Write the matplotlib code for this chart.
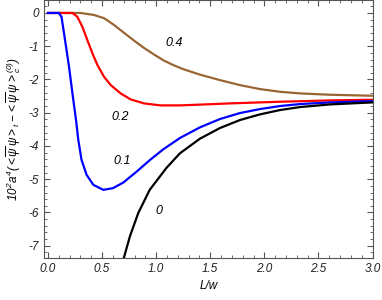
import numpy as np
import matplotlib
matplotlib.use("Agg")
import matplotlib.pyplot as plt
from matplotlib.ticker import MultipleLocator

plt.rcParams['font.family'] = 'Liberation Sans'
plt.rcParams['font.style'] = 'italic'
plt.rcParams['mathtext.fontset'] = 'custom'
plt.rcParams['mathtext.rm'] = 'Liberation Sans:italic'
plt.rcParams['mathtext.it'] = 'Liberation Sans:italic'

# curves, label = value of the parameter
x_00 = [0.68, 0.70, 0.757, 0.834, 0.94, 1.095, 1.22, 1.405, 1.59, 1.775, 1.96, 2.144, 2.33, 2.61, 3.0]
y_00 = [-7.6, -7.38, -6.72, -6.02, -5.32, -4.66, -4.22, -3.78, -3.46, -3.22, -3.05, -2.92, -2.83, -2.75, -2.69]

x_01 = [0.0, 0.10, 0.125, 0.148, 0.194, 0.234, 0.259, 0.28, 0.31, 0.357, 0.419, 0.511, 0.60,
        0.696, 0.82, 0.943, 1.066, 1.22, 1.405, 1.59, 1.775, 1.96, 2.144, 2.33, 2.61, 3.0]
y_01 = [0.0, 0.0, -0.12, -0.61, -1.61, -2.62, -3.22, -3.82, -4.42, -4.87, -5.17, -5.32, -5.27,
        -5.10, -4.77, -4.42, -4.10, -3.76, -3.44, -3.19, -3.01, -2.89, -2.80, -2.74, -2.69, -2.65]

x_02 = [0.0, 0.225, 0.27, 0.317, 0.363, 0.41, 0.456, 0.518, 0.58, 0.672, 0.764, 0.887, 1.04,
        1.22, 1.534, 1.68, 2.144, 2.61, 3.0]
y_02 = [0.0, 0.0, -0.11, -0.41, -0.81, -1.21, -1.56, -1.92, -2.17, -2.42, -2.60, -2.72, -2.78,
        -2.78, -2.74, -2.72, -2.67, -2.63, -2.61]

x_04 = [0.0, 0.30, 0.425, 0.52, 0.61, 0.70, 0.795, 0.887, 0.98, 1.07, 1.16, 1.25, 1.40, 1.59,
        1.775, 1.96, 2.144, 2.33, 2.61, 3.0]
y_04 = [0.0, 0.0, -0.06, -0.16, -0.36, -0.59, -0.83, -1.05, -1.25, -1.43, -1.57, -1.69, -1.85, -2.02,
        -2.17, -2.29, -2.37, -2.42, -2.46, -2.49]

fig = plt.figure(figsize=(3.82, 3.0), dpi=100)
ax = fig.add_axes([0.1152, 0.14, 0.86, 0.86])

ax.plot(x_04, y_04, color='#996633', lw=1.6)
ax.plot(x_02, y_02, color='#ff0000', lw=1.6)
ax.plot(x_01, y_01, color='#0000ff', lw=1.6)
ax.plot(x_00, y_00, color='black', lw=1.6)

ax.text(1.17, -0.89, '0.4', fontsize=9, ha='center', va='center')
ax.text(0.67, -3.13, '0.2', fontsize=9, ha='center', va='center')
ax.text(0.686, -4.46, '0.1', fontsize=9, ha='center', va='center')
ax.text(1.03, -5.97, '0', fontsize=9, ha='center', va='center')

ax.set_xlim(-0.037, 3.0)
ax.set_ylim(-7.37, 0.39)
ax.xaxis.set_major_locator(MultipleLocator(0.5))
ax.xaxis.set_minor_locator(MultipleLocator(0.1))
ax.yaxis.set_major_locator(MultipleLocator(1))
ax.yaxis.set_minor_locator(MultipleLocator(0.2))
ax.xaxis.set_major_formatter(matplotlib.ticker.FormatStrFormatter('%.1f'))
ax.yaxis.set_major_formatter(matplotlib.ticker.FuncFormatter(lambda v, p: '%d' % v if v != 0 else '0'))

ax.tick_params(which='both', direction='in', top=True, right=True, color='#555555',
               labelsize=8.5, labelcolor='#222222')
ax.tick_params(which='major', length=4, width=0.8)
ax.tick_params(which='minor', length=2.2, width=0.6)
for s in ax.spines.values():
    s.set_color('#555555')
    s.set_linewidth(0.8)

ax.set_xlabel('L/w', fontsize=8.5)
ax.set_ylabel(r'$10^2a^4(<\overline{\psi}\,\psi>_t-<\overline{\psi}\,\psi>_c^{(0)})$', fontsize=8.5)

fig.savefig('out.png', dpi=100)
